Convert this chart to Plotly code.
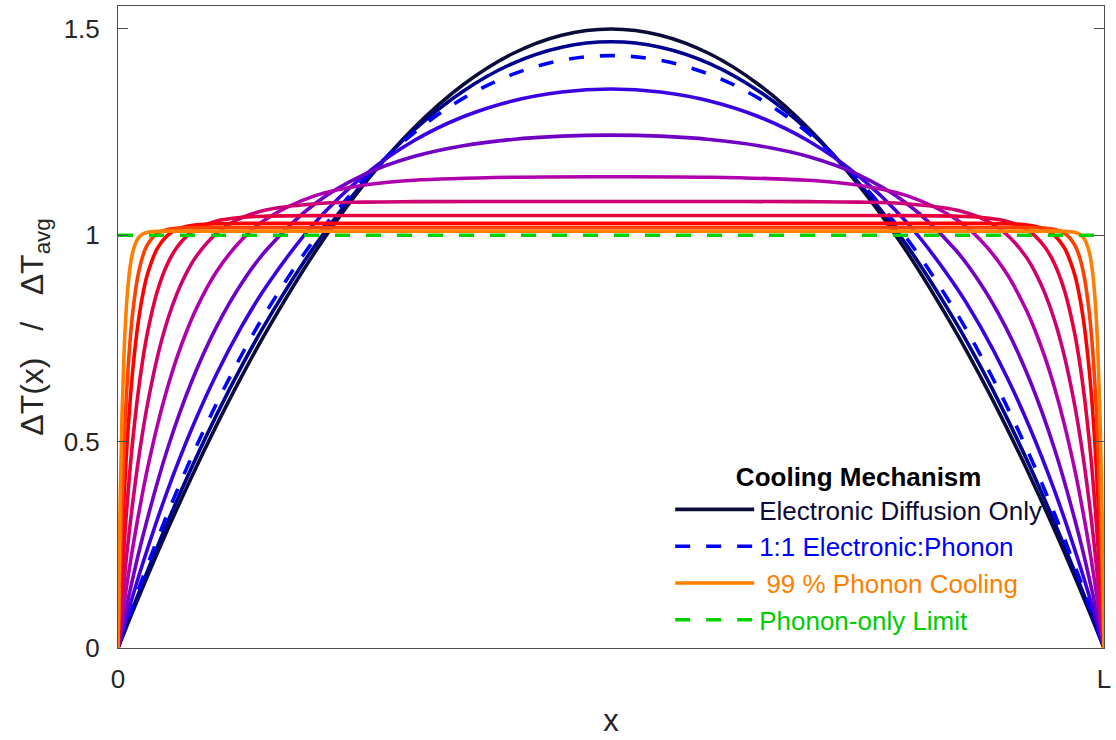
import plotly.graph_objects as go

# ---------------- data ----------------
# x positions (fraction of L) for the smoother curves
x_low = [0, 0.0125, 0.025, 0.05, 0.075, 0.1, 0.125, 0.15, 0.2, 0.25, 0.3, 0.35, 0.4, 0.45, 0.5,
         0.55, 0.6, 0.65, 0.7, 0.75, 0.8, 0.85, 0.875, 0.9, 0.925, 0.95, 0.975, 0.9875, 1]

# x positions (fraction of L) for the steep-edged curves
x_high = [0, 0.002, 0.004, 0.006, 0.008, 0.01, 0.0125, 0.015, 0.02, 0.025, 0.03, 0.04, 0.05,
          0.06, 0.07, 0.08, 0.1, 0.125, 0.15, 0.2, 0.25, 0.3, 0.4, 0.5,
          0.6, 0.7, 0.75, 0.8, 0.85, 0.875, 0.9, 0.92, 0.93, 0.94, 0.95, 0.96, 0.97,
          0.975, 0.98, 0.985, 0.9875, 0.99, 0.992, 0.994, 0.996, 0.998, 1]

y_electronic = [0, 0.0741, 0.1463, 0.285, 0.4163, 0.54, 0.6563, 0.765, 0.96, 1.125, 1.26, 1.365, 1.44, 1.485, 1.5,
                1.485, 1.44, 1.365, 1.26, 1.125, 0.96, 0.765, 0.6563, 0.54, 0.4163, 0.285, 0.1463, 0.0741, 0]

y_navy = [0, 0.0800, 0.1571, 0.3033, 0.4391, 0.5648, 0.6810, 0.7880, 0.9757, 1.1306, 1.2546, 1.3493, 1.4162, 1.4559, 1.4691,
          1.4559, 1.4162, 1.3493, 1.2546, 1.1306, 0.9757, 0.7880, 0.6810, 0.5648, 0.4391, 0.3033, 0.1571, 0.0800, 0]

y_one_to_one = [0, 0.0868, 0.1697, 0.3243, 0.4649, 0.5927, 0.7085, 0.8133, 0.9926, 1.1361, 1.2480, 1.3318, 1.3899, 1.4241, 1.4354,
                1.4241, 1.3899, 1.3318, 1.2480, 1.1361, 0.9926, 0.8133, 0.7085, 0.5927, 0.4649, 0.3243, 0.1697, 0.0868, 0]

y_blueviolet = [0, 0.1057, 0.2040, 0.3803, 0.5326, 0.6640, 0.7773, 0.8750, 1.0313, 1.1461, 1.2291, 1.2873, 1.3257, 1.3475, 1.3546,
                1.3475, 1.3257, 1.2873, 1.2291, 1.1461, 1.0313, 0.8750, 0.7773, 0.6640, 0.5326, 0.3803, 0.2040, 0.1057, 0]

y_violet = [0, 0.1426, 0.2691, 0.4809, 0.6476, 0.7788, 0.8820, 0.9631, 1.0772, 1.1476, 1.1909, 1.2171, 1.2324, 1.2403, 1.2428,
            1.2403, 1.2324, 1.2171, 1.1909, 1.1476, 1.0772, 0.9631, 0.8820, 0.7788, 0.6476, 0.4809, 0.2691, 0.1426, 0]

y_purple = [0, 0.0360, 0.0709, 0.1046, 0.1373, 0.1690, 0.2072, 0.2439, 0.3130, 0.3768, 0.4357, 0.5402, 0.6293,
            0.7053, 0.7700, 0.8251, 0.9121, 0.9882, 1.0392, 1.0963, 1.1219, 1.1334, 1.1409, 1.1421,
            1.1409, 1.1334, 1.1219, 1.0963, 1.0392, 0.9882, 0.9121, 0.8251, 0.7700, 0.7053, 0.6293, 0.5402, 0.4357,
            0.3768, 0.3130, 0.2439, 0.2072, 0.1690, 0.1373, 0.1046, 0.0709, 0.0360, 0]

y_magenta = [0, 0.0557, 0.1084, 0.1585, 0.2060, 0.2510, 0.3041, 0.3538, 0.4438, 0.5228, 0.5919, 0.7056, 0.7929,
             0.8600, 0.9115, 0.9511, 1.0048, 1.0421, 1.0613, 1.0765, 1.0805, 1.0816, 1.0819, 1.0820,
             1.0819, 1.0816, 1.0805, 1.0765, 1.0613, 1.0421, 1.0048, 0.9511, 0.9115, 0.8600, 0.7929, 0.7056, 0.5919,
             0.5228, 0.4438, 0.3538, 0.3041, 0.2510, 0.2060, 0.1585, 0.1084, 0.0557, 0]

y_crimson = [0, 0.0877, 0.1681, 0.2417, 0.3092, 0.3710, 0.4411, 0.5039, 0.6107, 0.6965, 0.7655, 0.8655, 0.9301,
             0.9718, 0.9988, 1.0162, 1.0347, 1.0435, 1.0465, 1.0478, 1.0480, 1.0480, 1.0480, 1.0480,
             1.0480, 1.0480, 1.0480, 1.0478, 1.0465, 1.0435, 1.0347, 1.0162, 0.9988, 0.9718, 0.9301, 0.8655, 0.7655,
             0.6965, 0.6107, 0.5039, 0.4411, 0.3710, 0.3092, 0.2417, 0.1681, 0.0877, 0]

y_red = [0, 0.1362, 0.2544, 0.3569, 0.4459, 0.5231, 0.6054, 0.6743, 0.7803, 0.8546, 0.9067, 0.9689, 0.9994,
         1.0145, 1.0219, 1.0255, 1.0281, 1.0289, 1.0290, 1.0290, 1.0290, 1.0290, 1.0290, 1.0290,
         1.0290, 1.0290, 1.0290, 1.0290, 1.0290, 1.0289, 1.0281, 1.0255, 1.0219, 1.0145, 0.9994, 0.9689, 0.9067,
         0.8546, 0.7803, 0.6743, 0.6054, 0.5231, 0.4459, 0.3569, 0.2544, 0.1362, 0]

y_redorange = [0, 0.1963, 0.3548, 0.4828, 0.5861, 0.6695, 0.7516, 0.8143, 0.8992, 0.9488, 0.9779, 1.0049, 1.0142,
               1.0174, 1.0185, 1.0189, 1.0190, 1.0191, 1.0191, 1.0191, 1.0191, 1.0191, 1.0191, 1.0191,
               1.0191, 1.0191, 1.0191, 1.0191, 1.0191, 1.0191, 1.0190, 1.0189, 1.0185, 1.0174, 1.0142, 1.0049, 0.9779,
               0.9488, 0.8992, 0.8143, 0.7516, 0.6695, 0.5861, 0.4828, 0.3548, 0.1963, 0]

y_phonon99 = [0, 0.3330, 0.5562, 0.7059, 0.8062, 0.8734, 0.9272, 0.9598, 0.9916, 1.0033, 1.0076, 1.0098, 1.0101,
              1.0101, 1.0101, 1.0101, 1.0101, 1.0101, 1.0101, 1.0101, 1.0101, 1.0101, 1.0101, 1.0101,
              1.0101, 1.0101, 1.0101, 1.0101, 1.0101, 1.0101, 1.0101, 1.0101, 1.0101, 1.0101, 1.0101, 1.0098, 1.0076,
              1.0033, 0.9916, 0.9598, 0.9272, 0.8734, 0.8062, 0.7059, 0.5562, 0.3330, 0]

x_limit = [0, 1]
y_limit = [1, 1]

x_tick_vals = [0, 1]
x_tick_text = ["0", "L"]
y_tick_vals = [0, 0.5, 1, 1.5]
y_tick_text = ["0", "0.5", "1", "1.5"]

legend_names = {
    "electronic": "Electronic Diffusion Only",
    "one_to_one": "1:1 Electronic:Phonon",
    "phonon99": "\u00a099 % Phonon Cooling",
    "limit": "Phonon-only Limit",
}

# ---------------- styling ----------------
LW = 3.6
DASH = "15px,16px"
FONT = "Liberation Sans, Arial, Helvetica, sans-serif"

series = [
    # x, y, colour, dash, legend key
    (x_low, y_electronic, "#0c0c38", "solid", "electronic"),
    (x_low, y_navy, "#00008e", "solid", None),
    (x_low, y_one_to_one, "#0000ff", DASH, "one_to_one"),
    (x_low, y_blueviolet, "#3a00e0", "solid", None),
    (x_low, y_violet, "#7000c4", "solid", None),
    (x_high, y_purple, "#b000ad", "solid", None),
    (x_high, y_magenta, "#cc0072", "solid", None),
    (x_high, y_crimson, "#e60040", "solid", None),
    (x_high, y_red, "#ff0000", "solid", None),
    (x_high, y_redorange, "#ff4000", "solid", None),
    (x_high, y_phonon99, "#ff8000", "solid", "phonon99"),
    (x_limit, y_limit, "#00d200", DASH, "limit"),
]

legend_text_colors = {
    "electronic": "#0c0c38",
    "one_to_one": "#0000ff",
    "phonon99": "#ff8000",
    "limit": "#00cc00",
}

fig = go.Figure()
for xs, ys, col, dash, key in series:
    show = key is not None
    name = ('<span style="color:%s">%s</span>' % (legend_text_colors[key], legend_names[key])) if show else "curve"
    fig.add_trace(go.Scatter(
        x=xs, y=ys, mode="lines",
        line=dict(color=col, width=LW, dash=dash, shape="spline", smoothing=1.0),
        name=name, showlegend=show, hoverinfo="skip",
    ))

axis_common = dict(
    showgrid=False, zeroline=False, showline=True, linecolor="#4d4d4d", linewidth=1,
    mirror="ticks", ticks="inside", ticklen=10, tickwidth=1, tickcolor="#4d4d4d",
    tickfont=dict(family=FONT, size=26, color="#262626"),
)

fig.update_layout(
    width=1116, height=740,
    margin=dict(l=118, r=9, t=5, b=92),
    paper_bgcolor="white", plot_bgcolor="white",
    font=dict(family=FONT, size=26, color="#262626"),
    xaxis=dict(range=[0, 1], tickvals=x_tick_vals, ticktext=x_tick_text,
               ticklabelstandoff=8,
               title=dict(text="x", font=dict(family=FONT, size=31, color="#262626"), standoff=16),
               **axis_common),
    yaxis=dict(range=[0, 1.5557], tickvals=y_tick_vals, ticktext=y_tick_text,
               ticklabelstandoff=12,
               title=dict(text="\u0394T(x)\u00a0\u00a0 /\u00a0\u00a0 \u0394T<sub>avg</sub>",
                          font=dict(family=FONT, size=32, color="#262626"), standoff=10),
               **axis_common),
    legend=dict(
        x=0.560, y=0.305, xanchor="left", yanchor="top",
        bgcolor="rgba(0,0,0,0)", borderwidth=0,
        font=dict(family=FONT, size=26, color="#000000"),
        title=dict(text="<b>Cooling Mechanism</b>", side="top center",
                   font=dict(family=FONT, size=26, color="#000000")),
        itemwidth=79, tracegroupgap=0,
    ),
)

fig.write_html("out.html")
